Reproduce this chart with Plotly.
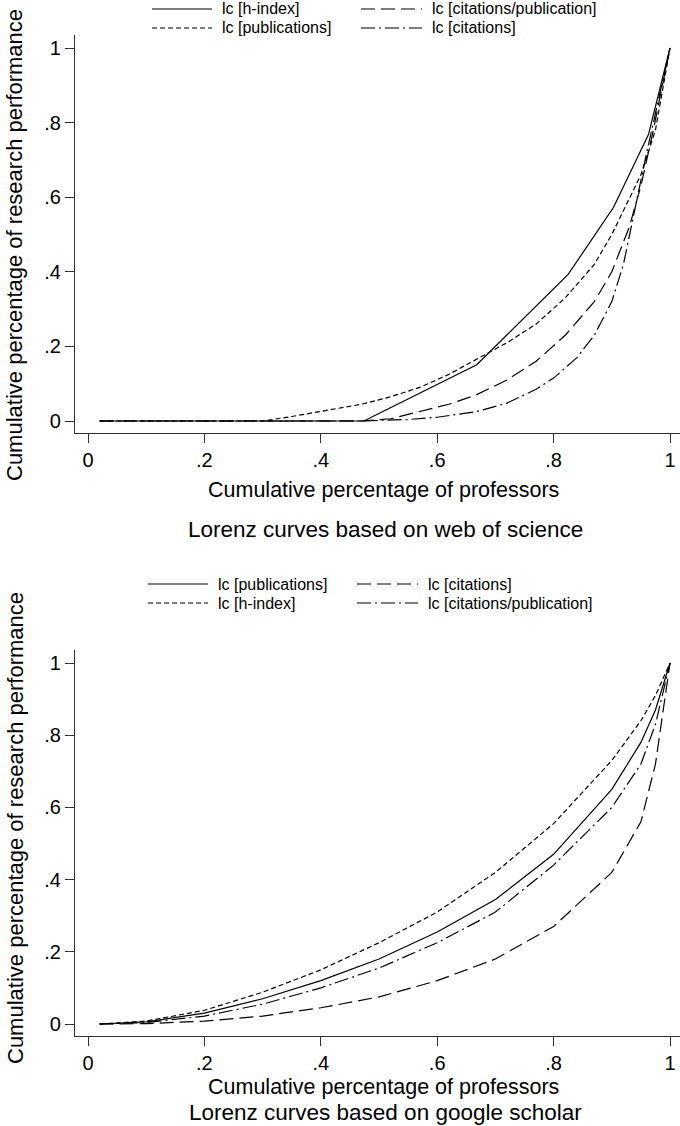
import plotly.graph_objects as go

# ---------------- data ----------------
tick_vals = [0, 0.2, 0.4, 0.6, 0.8, 1.0]
tick_text = ["0", ".2", ".4", ".6", ".8", "1"]

# Web of science
wos_hindex_x = [0.02, 0.474, 0.668, 0.825, 0.903, 0.963, 1.0]
wos_hindex_y = [0, 0, 0.151, 0.393, 0.573, 0.768, 1.0]

wos_pubs_x = [0.02, 0.30, 0.35, 0.40, 0.47, 0.52, 0.57, 0.62, 0.667, 0.72, 0.77, 0.82, 0.87, 0.90, 0.95, 0.975, 1.0]
wos_pubs_y = [0, 0, 0.012, 0.025, 0.045, 0.065, 0.09, 0.125, 0.165, 0.21, 0.26, 0.33, 0.42, 0.50, 0.66, 0.78, 1.0]

wos_cpp_x = [0.02, 0.47, 0.52, 0.57, 0.62, 0.667, 0.72, 0.77, 0.82, 0.87, 0.90, 0.93, 0.95, 0.97, 1.0]
wos_cpp_y = [0, 0, 0.006, 0.025, 0.045, 0.07, 0.11, 0.16, 0.23, 0.32, 0.40, 0.52, 0.63, 0.77, 1.0]

wos_cites_x = [0.02, 0.47, 0.55, 0.60, 0.667, 0.72, 0.77, 0.80, 0.84, 0.87, 0.90, 0.92, 0.94, 0.96, 0.98, 1.0]
wos_cites_y = [0, 0, 0.004, 0.01, 0.025, 0.048, 0.085, 0.115, 0.17, 0.23, 0.32, 0.42, 0.57, 0.72, 0.86, 1.0]

# Google scholar
gs_x = [0.02, 0.1, 0.2, 0.3, 0.4, 0.5, 0.6, 0.7, 0.8, 0.9, 0.95, 0.975, 1.0]
gs_pubs = [0, 0.006, 0.03, 0.07, 0.12, 0.18, 0.255, 0.345, 0.47, 0.65, 0.78, 0.87, 1.0]
gs_hindex = [0, 0.008, 0.038, 0.088, 0.15, 0.225, 0.31, 0.42, 0.555, 0.73, 0.84, 0.91, 1.0]
gs_cpp = [0, 0.004, 0.022, 0.055, 0.10, 0.155, 0.225, 0.31, 0.44, 0.60, 0.72, 0.83, 1.0]
gs_cites = [0, 0.001, 0.008, 0.022, 0.045, 0.075, 0.12, 0.18, 0.27, 0.42, 0.56, 0.72, 1.0]

x_title = "Cumulative percentage of professors"
y_title = "Cumulative percentage of research performance"
sub_top = "Lorenz curves based on web of science"
sub_bot = "Lorenz curves based on google scholar"

# ---------------- styles ----------------
W, H = 680, 1126
FONT = "Liberation Sans, Arial, Helvetica, sans-serif"
SOLID = "solid"
SHORT = "5px,3px"
LONG = "14px,6px"
DASHDOT = "14px,4px,2px,4px"
LW = 1.2


def px(x):
    return x / W


def py(y):
    return 1 - y / H


fig = go.Figure()

# layout per panel (pixel positions)
panels = [
    dict(xa="x", ya="y",
         series=[(wos_hindex_x, wos_hindex_y, SOLID, "lc [h-index]"),
                 (wos_pubs_x, wos_pubs_y, SHORT, "lc [publications]"),
                 (wos_cpp_x, wos_cpp_y, LONG, "lc [citations/publication]"),
                 (wos_cites_x, wos_cites_y, DASHDOT, "lc [citations]")],
         sub=sub_top, leg_y=(9, 28), leg_x=((152, 222), (361, 432)),
         top=35, bot=433, y1=48, y0=421, xt=490, st=530, yt=245),
    dict(xa="x2", ya="y2",
         series=[(gs_x, gs_pubs, SOLID, "lc [publications]"),
                 (gs_x, gs_hindex, SHORT, "lc [h-index]"),
                 (gs_x, gs_cites, LONG, "lc [citations]"),
                 (gs_x, gs_cpp, DASHDOT, "lc [citations/publication]")],
         sub=sub_bot, leg_y=(584, 603), leg_x=((148, 218), (357, 428)),
         top=650, bot=1036, y1=663, y0=1024, xt=1087, st=1112, yt=828),
]

annotations = []
shapes = []
for i, p in enumerate(panels):
    for sx, sy, dash, name in p["series"]:
        fig.add_trace(go.Scatter(x=sx, y=sy, mode="lines", xaxis=p["xa"], yaxis=p["ya"],
                                 line=dict(color="black", width=LW, dash=dash),
                                 name=name, showlegend=False, hoverinfo="skip"))
    s = p["series"]
    leg = [(s[0], 0, 0), (s[2], 1, 0), (s[1], 0, 1), (s[3], 1, 1)]
    for (sx, sy, dash, name), col, row in leg:
        yy = p["leg_y"][row]
        lx0, tx = p["leg_x"][col]
        shapes.append(dict(type="line", xref="paper", yref="paper",
                           x0=px(lx0), x1=px(tx - 10), y0=py(yy), y1=py(yy),
                           line=dict(color="black", width=LW, dash=dash)))
        annotations.append(dict(x=px(tx - 2), y=py(yy), xref="paper", yref="paper",
                                text=name, showarrow=False, xanchor="left", yanchor="middle",
                                font=dict(size=16, family=FONT, color="black")))
    annotations.append(dict(x=px(383), y=py(p["xt"]), xref="paper", yref="paper",
                            text=x_title, showarrow=False, xanchor="center", yanchor="middle",
                            font=dict(size=21.5, family=FONT, color="black")))
    annotations.append(dict(x=px(385), y=py(p["st"]), xref="paper", yref="paper",
                            text=p["sub"], showarrow=False, xanchor="center", yanchor="middle",
                            font=dict(size=22.5, family=FONT, color="black")))
    annotations.append(dict(x=px(15), y=py(p["yt"]), xref="paper", yref="paper",
                            text=y_title, showarrow=False, xanchor="center", yanchor="middle",
                            textangle=-90,
                            font=dict(size=22, family=FONT, color="black")))

    unit = p["y0"] - p["y1"]
    yr = [-(p["bot"] - p["y0"]) / unit, 1 + (p["y1"] - p["top"]) / unit]
    axis_common = dict(tickvals=tick_vals, ticktext=tick_text, ticks="outside", ticklen=9,
                       tickwidth=1, tickcolor="#333", showline=True, linecolor="#333",
                       linewidth=1.2, showgrid=False, zeroline=False,
                       tickfont=dict(size=20, family=FONT, color="black"), fixedrange=True)
    sfx = "" if i == 0 else "2"
    fig.update_layout(**{
        "xaxis" + sfx: dict(domain=[75 / W, 1.0], range=[-13 / 582, 1 + 10 / 582],
                            anchor="y" + sfx, **axis_common),
        "yaxis" + sfx: dict(domain=[py(p["bot"]), py(p["top"])], range=yr,
                            anchor="x" + sfx, tickangle=0, **axis_common),
    })

fig.update_layout(width=W, height=H, margin=dict(l=0, r=0, t=0, b=0),
                  paper_bgcolor="white", plot_bgcolor="white",
                  annotations=annotations, shapes=shapes, showlegend=False,
                  font=dict(family=FONT, color="black"))

fig.write_html("out.html", config={"displayModeBar": False},
               post_script="document.body.style.margin='0';document.body.style.padding='0';")
